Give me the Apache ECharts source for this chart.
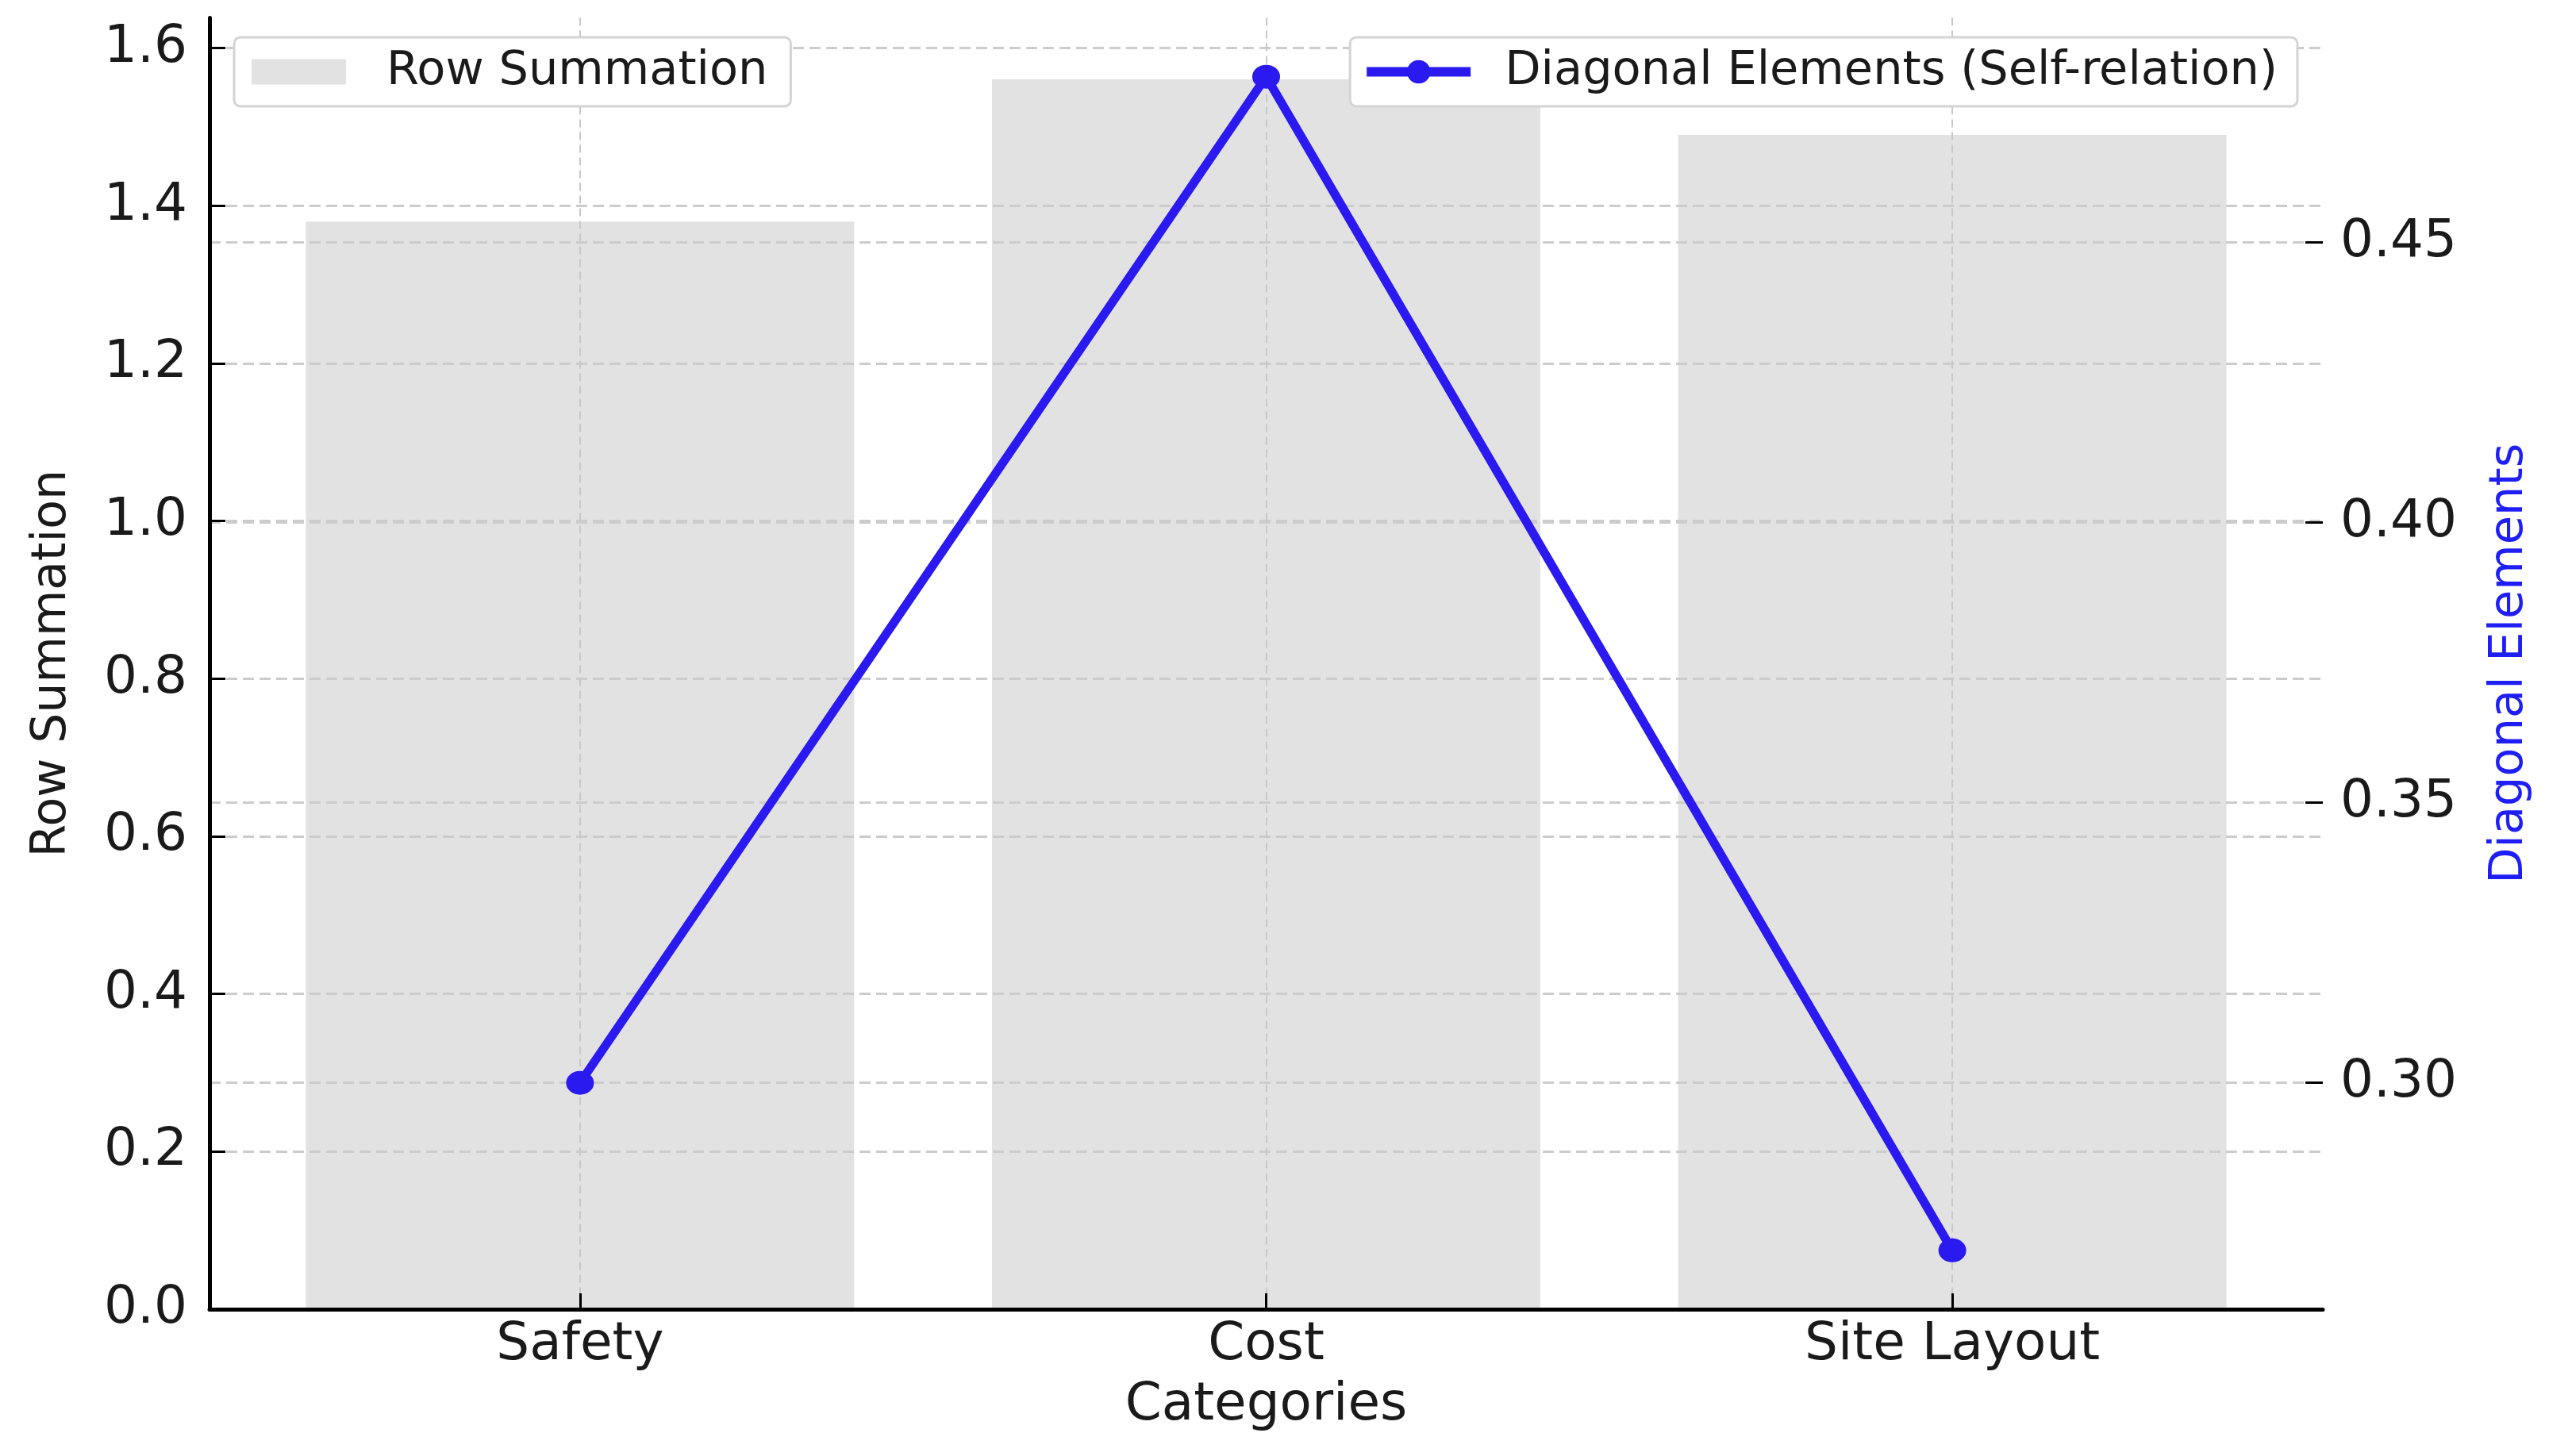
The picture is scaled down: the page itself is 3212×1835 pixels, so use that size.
<!DOCTYPE html>
<html>
<head>
<meta charset="utf-8">
<title>Row Summation and Diagonal Elements</title>
<script src="https://cdn.jsdelivr.net/npm/echarts@6/dist/echarts.min.js"></script>
<style>
    html, body { margin: 0; padding: 0; background: #ffffff; }
    #chart { width: 3212px; height: 1835px; }
</style>
</head>
<body>
<div id="chart"></div>
<script>
var categories = ['Safety', 'Cost', 'Site Layout'];
var rowSummation = [1.380, 1.5605, 1.490];
var diagonalElements = [0.300, 0.4796, 0.2701];
var leftTicks = [0, 0.2, 0.4, 0.6, 0.8, 1.0, 1.2, 1.4, 1.6];
var rightTicks = [0.30, 0.35, 0.40, 0.45];
var categoryTicks = [0, 1, 2];

var FONT = 'DejaVu Sans';
var TEXT = '#1a1a1a';
var BLUE = '#2a1af0';
var GRID_LINE = { show: true, lineStyle: { color: '#cccccc', width: 3, type: [14, 7] } };

var barData = [];
var lineData = [];
for (var i = 0; i < categories.length; ++i) {
    barData.push([i, rowSummation[i]]);
    lineData.push([i, diagonalElements[i]]);
}

var option = {
    backgroundColor: '#ffffff',
    animation: false,
    textStyle: { fontFamily: FONT },
    grid: { left: 264, right: 285, top: 22.5, bottom: 185, containLabel: false, outerBoundsMode: 'none' },
    legend: [
        {
            data: ['Row Summation'],
            left: 295, top: 47,
            padding: [14, 29, 14, 22],
            itemWidth: 119, itemHeight: 32,
            icon: 'rect',
            backgroundColor: '#ffffff',
            borderColor: '#d4d4d4', borderWidth: 3, borderRadius: 8,
            textStyle: { fontFamily: FONT, fontSize: 59, color: TEXT, padding: [0, 0, 0, 46] }
        },
        {
            data: ['Diagonal Elements (Self-relation)'],
            right: 317, top: 47,
            padding: [14, 25, 14, 15],
            itemWidth: 131, itemHeight: 37,
            lineStyle: { width: 12, color: BLUE },
            backgroundColor: '#ffffff',
            borderColor: '#d4d4d4', borderWidth: 3, borderRadius: 8,
            textStyle: { fontFamily: FONT, fontSize: 59, color: TEXT, padding: [0, 0, 0, 38] }
        }
    ],
    xAxis: {
        type: 'value',
        min: -0.54, max: 2.54,
        z: 1,
        name: 'Categories',
        nameLocation: 'middle',
        nameGap: 89,
        nameTextStyle: { fontFamily: FONT, fontSize: 66, color: TEXT },
        axisLine: { show: true, onZero: false, lineStyle: { color: '#000000', width: 5 } },
        axisTick: { show: true, inside: true, length: 20, customValues: categoryTicks, lineStyle: { color: '#000000', width: 3 } },
        axisLabel: {
            customValues: categoryTicks,
            margin: 13,
            fontFamily: FONT, fontSize: 66, color: TEXT,
            formatter: function (v) { return categories[Math.round(v)]; }
        },
        splitLine: { show: true, lineStyle: { color: '#c8c8c8', width: 2, type: [10, 6] } }
    },
    yAxis: [
        {
            type: 'value',
            min: 0, max: 1.6385,
            z: 1,
            name: 'Row Summation',
            nameLocation: 'middle',
            nameGap: 168,
            nameTextStyle: { fontFamily: FONT, fontSize: 60, color: TEXT },
            axisLine: { show: true, onZero: false, lineStyle: { color: '#000000', width: 5 } },
            axisTick: { show: true, inside: true, length: 20, customValues: leftTicks, lineStyle: { color: '#000000', width: 3 } },
            axisLabel: {
                customValues: leftTicks,
                margin: 28,
                fontFamily: FONT, fontSize: 66, color: TEXT,
                formatter: function (v) { return v.toFixed(1); }
            },
            splitLine: GRID_LINE
        },
        {
            type: 'value',
            position: 'right',
            min: 0.2596, max: 0.4901,
            z: 1,
            name: 'Diagonal Elements',
            nameLocation: 'middle',
            nameGap: 206,
            nameTextStyle: { fontFamily: FONT, fontSize: 59, color: '#1f1ff5' },
            axisLine: { show: false, onZero: false },
            axisTick: { show: true, inside: true, length: 22, customValues: rightTicks, lineStyle: { color: '#000000', width: 3 } },
            axisLabel: {
                customValues: rightTicks,
                margin: 22,
                fontFamily: FONT, fontSize: 66, color: TEXT,
                formatter: function (v) { return v.toFixed(2); }
            },
            splitLine: GRID_LINE
        }
    ],
    series: [
        {
            name: 'Row Summation',
            type: 'bar',
            z: 0,
            xAxisIndex: 0,
            yAxisIndex: 0,
            barWidth: 691,
            itemStyle: { color: '#e2e2e2' },
            data: barData
        },
        {
            name: 'Diagonal Elements (Self-relation)',
            type: 'line',
            z: 3,
            xAxisIndex: 0,
            yAxisIndex: 1,
            symbol: 'circle',
            symbolSize: [35, 30],
            lineStyle: { color: BLUE, width: 11 },
            itemStyle: { color: BLUE },
            data: lineData
        }
    ]
};

echarts.init(document.getElementById('chart')).setOption(option);
</script>
</body>
</html>
